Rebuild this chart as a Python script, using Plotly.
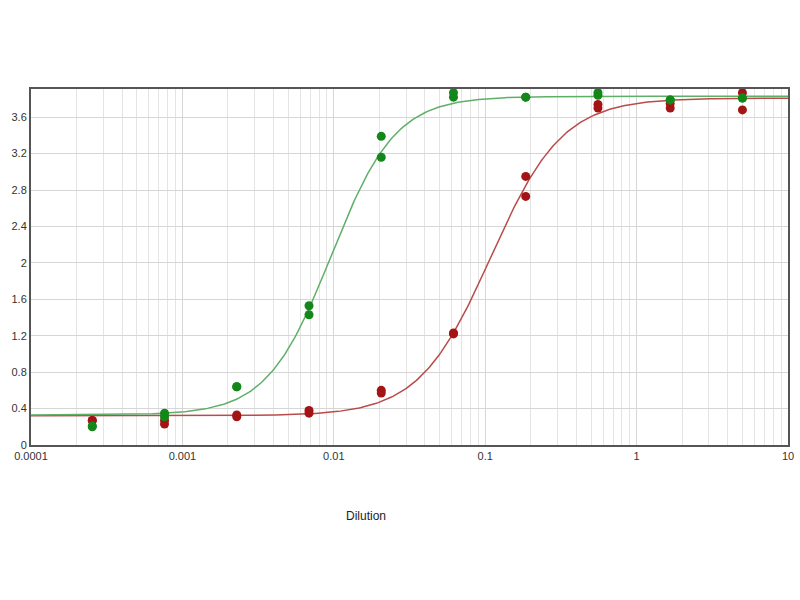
import numpy as np
import plotly.graph_objects as go

# Dilution points (3-fold series)
dilution = [0.000254, 0.000762, 0.002286, 0.006859, 0.02058, 0.06173, 0.1852, 0.5556, 1.667, 5.0]

# Replicate OD readings (two replicates per dilution)
green_rep1 = [0.20, 0.35, 0.64, 1.53, 3.39, 3.87, 3.82, 3.87, 3.79, 3.81]
green_rep2 = [0.21, 0.31, 0.64, 1.43, 3.16, 3.82, 3.82, 3.84, 3.79, 3.81]
red_rep1 = [0.27, 0.27, 0.33, 0.38, 0.60, 1.22, 2.95, 3.74, 3.75, 3.87]
red_rep2 = [0.27, 0.23, 0.31, 0.35, 0.57, 1.23, 2.73, 3.70, 3.70, 3.68]

# 4PL fit parameters: bottom, top, EC50, hill slope
green_fit = [0.33, 3.83, 0.00962, 2.05]
red_fit = [0.32, 3.81, 0.109, 1.83]

x_ticks = [0.0001, 0.001, 0.01, 0.1, 1, 10]
x_tick_text = ["0.0001", "0.001", "0.01", "0.1", "1", "10"]
y_ticks = [0, 0.4, 0.8, 1.2, 1.6, 2.0, 2.4, 2.8, 3.2, 3.6]
y_tick_text = ["0", "0.4", "0.8", "1.2", "1.6", "2", "2.4", "2.8", "3.2", "3.6"]

GREEN_LINE = "rgb(95,175,105)"
RED_LINE = "rgb(185,75,75)"
GREEN_PT = "rgb(20,135,25)"
RED_PT = "rgb(165,20,20)"


def four_pl(x, p):
    bottom, top, ec50, hill = p
    return top + (bottom - top) / (1 + (x / ec50) ** hill)


xs = np.logspace(-4, 1, 400)
minor_vals = [m * 10.0 ** e for e in range(-4, 1) for m in range(2, 10)]

fig = go.Figure()
fig.add_trace(go.Scatter(x=xs, y=four_pl(xs, red_fit), mode="lines",
                         line=dict(color=RED_LINE, width=1.5), hoverinfo="skip"))
fig.add_trace(go.Scatter(x=xs, y=four_pl(xs, green_fit), mode="lines",
                         line=dict(color=GREEN_LINE, width=1.5), hoverinfo="skip"))
for reps, col in [((red_rep1, red_rep2), RED_PT), ((green_rep1, green_rep2), GREEN_PT)]:
    for r in reps:
        fig.add_trace(go.Scatter(x=dilution, y=r, mode="markers",
                                 marker=dict(color=col, size=9), cliponaxis=False))

fig.update_layout(
    width=800, height=600,
    margin=dict(l=31, r=12, t=89, b=155),
    paper_bgcolor="white", plot_bgcolor="white",
    showlegend=False,
    font=dict(family="Liberation Sans, Arial, sans-serif", size=11, color="#333"),
)
fig.update_xaxes(
    type="log", range=[-4, 1], automargin=False,
    tickvals=x_ticks, ticktext=x_tick_text,
    showgrid=True, gridcolor="#d6d6d6", gridwidth=1,
    minor=dict(tickvals=minor_vals, showgrid=True, gridcolor="#e4e4e4", gridwidth=1, ticks=""),
    showline=True, linecolor="#555", linewidth=2, mirror=True,
    ticks="", zeroline=False,
)
fig.update_yaxes(
    range=[0, 3.91], automargin=False,
    tickvals=y_ticks, ticktext=y_tick_text,
    showgrid=True, gridcolor="#d6d6d6", gridwidth=1,
    showline=True, linecolor="#555", linewidth=2, mirror=True,
    ticks="", zeroline=False,
)
fig.add_annotation(text="Dilution", xref="paper", yref="paper",
                   x=0.4425, y=-0.226, showarrow=False,
                   font=dict(size=12, color="#222"))

fig.write_html("out.html", config={"displayModeBar": False},
               post_script="document.body.style.margin='0';")
